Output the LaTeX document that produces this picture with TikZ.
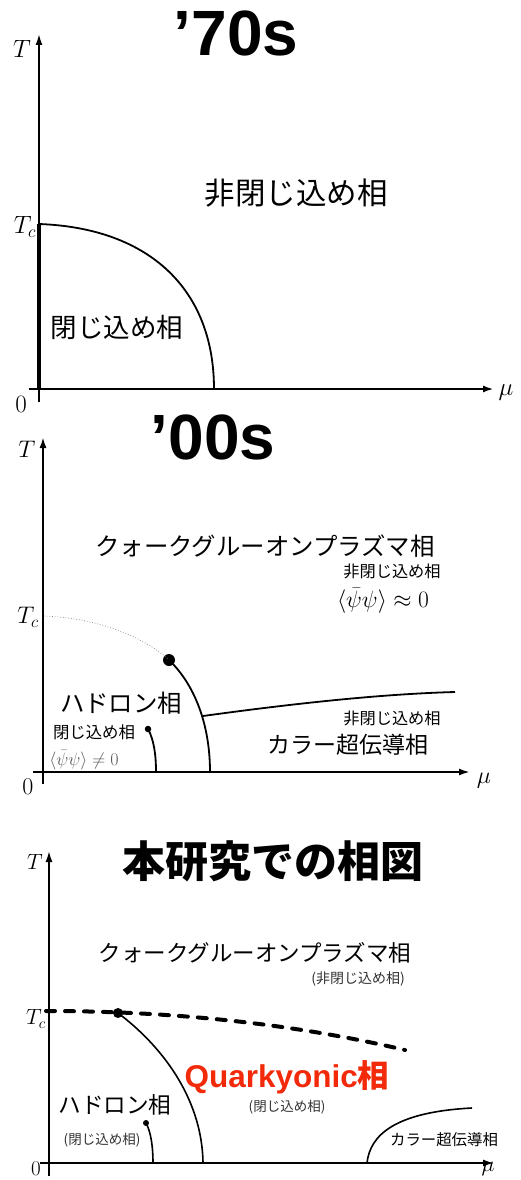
\RequirePackage{fix-cm}
\documentclass[tikz,border=0pt]{standalone}
\usepackage{fontspec}
\usepackage{amsmath}
\newfontfamily\jp{Noto Sans CJK JP}
\newfontfamily\hel{Liberation Sans}
\usetikzlibrary{arrows.meta}
\definecolor{qred}{RGB}{242,42,10}
\definecolor{subgray}{RGB}{50,50,50}
\tikzset{
  axisarrow/.style={-{Latex[length=11pt,width=7pt]}},
  bound/.style={line width=1.8pt},
  lab/.style={inner sep=0pt, font={\jp\fontsize{#1}{#1}\selectfont}},
  sublab/.style={inner sep=0pt, text=subgray, font={\jp\fontsize{#1}{#1}\selectfont}},
  mlab/.style={inner sep=0pt, font={\fontsize{#1}{#1}\selectfont}},
  titlelab/.style={inner sep=0pt, font={\hel\bfseries\fontsize{64}{64}\selectfont}},
  dot/.style={circle, fill=black, inner sep=0pt, minimum size=#1},
}
\begin{document}
\begin{tikzpicture}[x=1pt,y=-1pt]
\useasboundingbox (0,0) rectangle (520,1180);

%%%%%%%% Panel 1: '70s
\node[titlelab] (title1) at (236,33) {’70s};
\coordinate (X1a) at (29,389); \coordinate (X1b) at (494,389);
\coordinate (Y1a) at (39,402); \coordinate (Y1b) at (39,34);
\coordinate (Tc1) at (39,224); \coordinate (O1) at (39,389);
\coordinate (M1) at (214,389);
\draw[line width=2.2pt, axisarrow] (X1a) -- (X1b);
\draw[line width=1.7pt, axisarrow] (Y1a) -- (Y1b);
\draw[line width=3.2pt] (Tc1) -- (O1);
\draw[bound] (Tc1) .. controls (150,228) and (214,290) .. (M1);
\node[mlab=25] (T1) at (22,49) {$T$};
\node[mlab=25] (Tc1l) at (25,227) {$T_c$};
\node[mlab=25] (zero1) at (21,404) {$0$};
\node[mlab=25] (mu1) at (506,393) {$\mu$};
\node[lab=30.5] (deconf1) at (296,193) {非閉じ込め相};
\node[lab=26.5] (conf1) at (117,327) {閉じ込め相};

%%%%%%%% Panel 2: '00s
\node[titlelab] (title2) at (213,437) {’00s};
\coordinate (X2a) at (33,772); \coordinate (X2b) at (470,772);
\coordinate (Y2a) at (43,784); \coordinate (Y2b) at (43,437);
\draw[line width=2pt, axisarrow] (X2a) -- (X2b);
\draw[line width=2pt, axisarrow] (Y2a) -- (Y2b);
\coordinate (Tc2) at (44,616);
\node[dot=12pt] (cp2) at (169,660) {};
\coordinate (M2) at (210,772);
\coordinate (J2) at (203,716);
\coordinate (E2) at (455,692);
\draw[dotted, line width=0.7pt, gray] (Tc2) .. controls (100,618) and (145,638) .. (cp2.center);
\draw[bound] (cp2.center) .. controls (195,685) and (210,725) .. (M2);
\draw[bound] (J2) .. controls (290,704) and (380,694) .. (E2);
\node[dot=6.5pt] (ep2) at (148,729) {};
\coordinate (B2) at (156,772);
\draw[bound] (ep2.center) .. controls (154,740) and (156,755) .. (B2);
\node[mlab=24] (T2) at (27,449) {$T$};
\node[mlab=24] (Tc2l) at (28,617) {$T_c$};
\node[mlab=24] (zero2) at (28,787) {$0$};
\node[mlab=24] (mu2) at (484,781) {$\mu$};
\node[lab=24.4] (qgp2) at (265,546) {クォークグルーオンプラズマ相};
\node[lab=16.2] (deconfA2) at (392,571) {非閉じ込め相};
\node[mlab=23.5] (cond0) at (383,601) {$\langle\bar\psi\psi\rangle \approx 0$};
\node[lab=24.4] (had2) at (121,703) {ハドロン相};
\node[lab=16.4] (conf2) at (94,732) {閉じ込め相};
\node[mlab=18, text=black!65] (condn) at (84,760) {$\langle\bar\psi\psi\rangle \neq 0$};
\node[lab=16.2] (deconfB2) at (392,718) {非閉じ込め相};
\node[lab=23] (csc2) at (348,745) {カラー超伝導相};

%%%%%%%% Panel 3
\node[inner sep=0pt, font={\jp\bfseries\fontsize{43}{43}\selectfont}] (title3) at (273,861) {本研究での相図};
\coordinate (X3a) at (40,1163); \coordinate (X3b) at (494,1163);
\coordinate (Y3a) at (49,1176); \coordinate (Y3b) at (49,851);
\draw[line width=1.7pt, axisarrow] (X3a) -- (X3b);
\draw[line width=1.7pt, axisarrow] (Y3a) -- (Y3b);
\coordinate (D3a) at (46,1011);
\coordinate (D3b) at (405,1050);
\draw[line width=4pt, line cap=round, dash pattern=on 9pt off 10pt] (D3a) .. controls (200,1011) and (320,1030) .. (D3b);
\node[dot=10pt] (cp3) at (118,1013) {};
\coordinate (M3) at (203,1163);
\draw[line width=1.6pt] (cp3.center) .. controls (158,1043) and (202,1095) .. (M3);
\node[dot=6pt] (ep3) at (146,1123) {};
\coordinate (B3) at (153,1163);
\draw[line width=1.6pt] (ep3.center) .. controls (151,1132) and (153,1147) .. (B3);
\coordinate (C3a) at (367,1163); \coordinate (C3b) at (472,1108);
\draw[line width=1.6pt] (C3a) .. controls (370,1135) and (395,1112) .. (C3b);
\node[mlab=22] (T3) at (35,862) {$T$};
\node[mlab=22] (Tc3l) at (36,1019) {$T_c$};
\node[mlab=21] (zero3) at (36,1169) {$0$};
\node[mlab=22] (mu3) at (488,1169) {$\mu$};
\node[lab=22.5] (qgp3) at (255,953) {クォークグルーオンプラズマ相};
\node[sublab=14] (deconf3) at (358,979) {(非閉じ込め相)};
\node[inner sep=0pt, text=qred, font={\hel\bfseries\fontsize{31.5}{31.5}\selectfont}] (qy3) at (287,1077) {Quarkyonic{\jp\bfseries 相}};
\node[sublab=13.5] (confq3) at (287,1107) {(閉じ込め相)};
\node[lab=22.6] (had3) at (115,1105) {ハドロン相};
\node[sublab=13.5] (confh3) at (102,1140) {(閉じ込め相)};
\node[lab=15.4] (csc3) at (444,1140) {カラー超伝導相};
\end{tikzpicture}
\end{document}
